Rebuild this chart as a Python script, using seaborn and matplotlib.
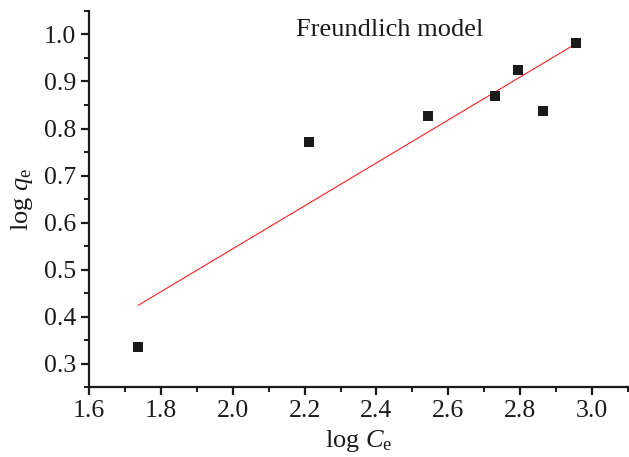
import numpy as np
import pandas as pd
import matplotlib
matplotlib.use("Agg")
import matplotlib.pyplot as plt
import seaborn as sns
from matplotlib.ticker import MultipleLocator

log_ce = [1.737, 2.211, 2.542, 2.729, 2.793, 2.863, 2.954]
log_qe = [0.336, 0.772, 0.827, 0.869, 0.925, 0.838, 0.981]
fit_x = [1.737, 2.954]
fit_y = [0.424, 0.980]

sns.set_theme(style="ticks")
plt.rcParams["font.family"] = ["Liberation Serif", "DejaVu Serif"]
plt.rcParams["mathtext.fontset"] = "custom"
plt.rcParams["mathtext.rm"] = "Liberation Serif"
plt.rcParams["mathtext.it"] = "Liberation Serif:italic"

fig = plt.figure(figsize=(6.29, 4.57), dpi=100)
ax = fig.add_axes([0.1415, 0.153, 0.857, 0.823])

df = pd.DataFrame({"x": log_ce, "y": log_qe})
fit = pd.DataFrame({"x": fit_x, "y": fit_y})
sns.lineplot(data=fit, x="x", y="y", ax=ax, color="#ff2020", linewidth=0.8)
sns.scatterplot(data=df, x="x", y="y", ax=ax, marker="s", s=55, color="#1a1a1a",
                edgecolor="#1a1a1a", linewidth=0, zorder=3)

ax.set_xlim(1.6, 3.1)
ax.set_ylim(0.25, 1.05)
ax.xaxis.set_major_locator(MultipleLocator(0.2))
ax.xaxis.set_minor_locator(MultipleLocator(0.1))
ax.yaxis.set_major_locator(MultipleLocator(0.1))
ax.yaxis.set_minor_locator(MultipleLocator(0.05))
ax.xaxis.set_major_formatter(matplotlib.ticker.FormatStrFormatter("%.1f"))
ax.yaxis.set_major_formatter(matplotlib.ticker.FormatStrFormatter("%.1f"))

for s in ["top", "right"]:
    ax.spines[s].set_visible(False)
for s in ["left", "bottom"]:
    ax.spines[s].set_linewidth(1.6)
    ax.spines[s].set_color("#1a1a1a")

ax.tick_params(which="major", length=6, width=1.6, labelsize=18.5, colors="#1a1a1a", direction="out")
ax.tick_params(which="minor", length=3.5, width=1.4, colors="#1a1a1a", direction="out")

ax.set_xlabel(r"log $\mathit{C}_{\mathrm{e}}$", fontsize=19, color="#1a1a1a", labelpad=4)
ax.set_ylabel(r"log $\mathit{q}_{\mathrm{e}}$", fontsize=19, color="#1a1a1a", labelpad=6)

ax.text(0.557, 0.95, "Freundlich model", transform=ax.transAxes, ha="center", va="center",
        fontsize=19, color="#1a1a1a")

fig.savefig("out.png", dpi=100)
